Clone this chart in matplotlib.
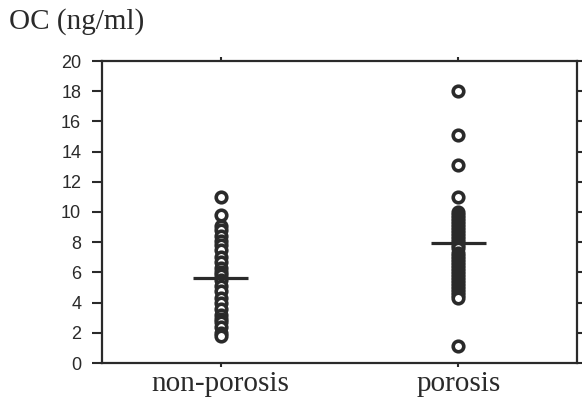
import numpy as np
import matplotlib
matplotlib.use('Agg')
import matplotlib.pyplot as plt

# values
categories = ['non-porosis', 'porosis']
non_porosis = [11.0, 9.8, 9.1, 8.8, 8.4, 8.1, 7.8, 7.5, 7.0, 6.7, 6.3, 6.0,
               5.8, 5.5, 5.1, 4.8, 4.3, 4.0, 3.6, 3.2, 2.9, 2.7, 2.4, 2.0,
               1.8]
porosis = [18.0, 15.1, 13.1, 11.0, 10.0, 9.8, 9.6, 9.4, 9.2, 9.0, 8.8,
           8.6, 8.4, 8.2, 8.0, 7.8, 7.6, 7.3, 7.1, 6.9, 6.7, 6.5, 6.3, 6.1,
           5.9, 5.7, 5.5, 5.3, 5.1, 4.9, 4.7, 4.5, 4.3, 1.1]
medians = [5.6, 7.95]
yticks = np.arange(0, 21, 2)

ink = '#2a2a2a'
fig = plt.figure(figsize=(5.82, 4.0), dpi=100)
ax = fig.add_axes([0.1753, 0.0925, 0.8161, 0.755])

for i, vals in enumerate([non_porosis, porosis]):
    ax.plot(np.full(len(vals), i), vals, 'o', ms=7.6, mfc='white',
            mec=ink, mew=2.6, zorder=3)
    ax.plot([i - 0.115, i + 0.115], [medians[i]] * 2, color=ink, lw=2.3,
            zorder=4, solid_capstyle='butt')

ax.set_xlim(-0.5, 1.5)
ax.set_ylim(0, 20)
ax.set_yticks(yticks)
ax.set_yticklabels([str(t) for t in yticks], fontsize=13,
                   family='Liberation Sans', color=ink)
ax.set_xticks([0, 1])
ax.set_xticklabels(categories, fontsize=21, family='Liberation Serif',
                   color=ink)
ax.tick_params(axis='y', direction='out', length=7, width=1.5, color=ink,
               right=True, pad=8)
ax.tick_params(axis='x', direction='out', length=3, width=1.5, color=ink,
               top=True, pad=3)
for s in ax.spines.values():
    s.set_linewidth(1.6)
    s.set_color(ink)

fig.text(0.015, 0.945, 'OC (ng/ml)', fontsize=21, family='Liberation Serif',
         color=ink, va='center', ha='left')

fig.savefig('out.png', dpi=100)
plt.close()
